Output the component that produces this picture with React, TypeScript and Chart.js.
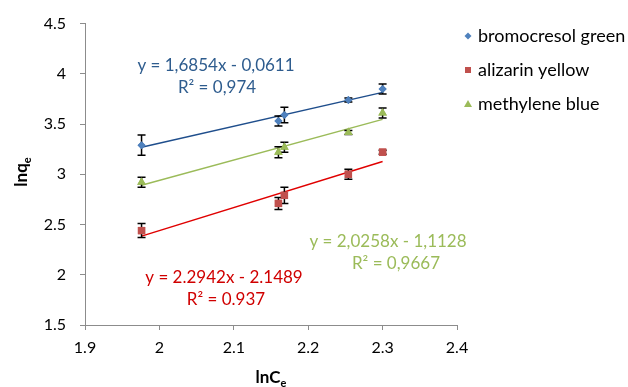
import React, { useEffect, useRef } from "react";
import { Chart, registerables } from "chart.js";

Chart.register(...registerables);

const seriesNames = ["bromocresol green", "alizarin yellow", "methylene blue"];
const lnCe = [1.976, 2.16, 2.168, 2.254, 2.3];
const greenY = [3.29, 3.53, 3.59, 3.74, 3.85];
const greenErr = [0.1, 0.05, 0.077, 0.02, 0.05];
const yellowY = [2.44, 2.71, 2.79, 3.0, 3.22];
const yellowErr = [0.07, 0.06, 0.08, 0.05, 0.02];
const blueY = [2.92, 3.22, 3.27, 3.415, 3.61];
const blueErr = [0.05, 0.055, 0.05, 0.02, 0.05];
const slopes = [1.6854, 2.2942, 2.0258];
const intercepts = [-0.0611, -2.1489, -1.1128];
const eqLabels = [
  ["y = 1,6854x - 0,0611", "R\u00B2 = 0,974"],
  ["y = 2.2942x - 2.1489", "R\u00B2 = 0.937"],
  ["y = 2,0258x - 1,1128", "R\u00B2 = 0,9667"],
];
const xTicks = [1.9, 2.0, 2.1, 2.2, 2.3, 2.4];
const yTicks = [1.5, 2, 2.5, 3, 3.5, 4, 4.5];

const markerColors = ["#4F81BD", "#C0504D", "#9BBB59"];
const lineColors = ["#1F4E8C", "#E00000", "#9BBB59"];
const textColors = ["#2E5C8E", "#D00000", "#9BBB59"];
const markerStyles = ["rectRot", "rect", "triangle"];
const markerRadius = [4, 5.2, 5];
const FONT = "Lato, 'Open Sans', sans-serif";

export default function App() {
  const ref = useRef<HTMLCanvasElement | null>(null);
  useEffect(() => {
    if (!ref.current) return;
    const ys = [greenY, yellowY, blueY];
    const errs = [greenErr, yellowErr, blueErr];
    const xmin = lnCe[0];
    const xmax = lnCe[lnCe.length - 1];
    const trend = slopes.map((m, i) => ({
      type: "line" as const,
      label: "trend" + i,
      data: [
        { x: xmin, y: m * xmin + intercepts[i] },
        { x: xmax, y: m * xmax + intercepts[i] },
      ],
      borderColor: lineColors[i],
      borderWidth: 1.5,
      pointRadius: 0,
      showLine: true,
      fill: false,
      order: 2,
    }));
    const pts = ys.map((arr, i) => ({
      type: "scatter" as const,
      label: seriesNames[i],
      data: arr.map((y, j) => ({ x: lnCe[j], y })),
      pointStyle: markerStyles[i],
      backgroundColor: markerColors[i],
      borderColor: markerColors[i],
      borderWidth: 0,
      pointRadius: markerRadius[i],
      showLine: false,
      order: 1,
    }));

    const errPlugin = {
      id: "errbars",
      afterDatasetsDraw(chart: any) {
        const ctx = chart.ctx;
        const xs = chart.scales.x;
        const yS = chart.scales.y;
        ctx.save();
        ctx.strokeStyle = "#000";
        ctx.lineWidth = 1.5;
        ys.forEach((arr, i) => {
          arr.forEach((y, j) => {
            const px = xs.getPixelForValue(lnCe[j]);
            const top = yS.getPixelForValue(y + errs[i][j]);
            const bot = yS.getPixelForValue(y - errs[i][j]);
            ctx.beginPath();
            ctx.moveTo(px, top);
            ctx.lineTo(px, bot);
            ctx.moveTo(px - 4, top);
            ctx.lineTo(px + 4, top);
            ctx.moveTo(px - 4, bot);
            ctx.lineTo(px + 4, bot);
            ctx.stroke();
          });
        });
        chart.data.datasets.forEach((ds: any, k: number) => {
          if (ds.type !== "scatter") return;
          chart.getDatasetMeta(k).data.forEach((el: any) => el.draw(ctx));
        });
        ctx.restore();
      },
    };

    const textPlugin = {
      id: "texts",
      afterDraw(chart: any) {
        const ctx = chart.ctx;
        ctx.save();
        ctx.textAlign = "center";
        ctx.textBaseline = "middle";
        ctx.font = `17px ${FONT}`;
        const pos = [
          [[216, 66], [217, 88]],
          [[224, 278], [226, 300]],
          [[388, 242], [396, 264]],
        ];
        eqLabels.forEach((lines, i) => {
          ctx.fillStyle = textColors[i];
          lines.forEach((t, k) => ctx.fillText(t, pos[i][k][0], pos[i][k][1]));
        });
        ctx.textAlign = "left";
        ctx.font = `18px ${FONT}`;
        seriesNames.forEach((n, i) => {
          const yy = 36 + i * 34;
          ctx.fillStyle = "#000";
          ctx.fillText(n, 478, yy);
          ctx.fillStyle = markerColors[i];
          ctx.beginPath();
          if (i === 0) {
            ctx.moveTo(468, yy - 3.5);
            ctx.lineTo(471.5, yy);
            ctx.lineTo(468, yy + 3.5);
            ctx.lineTo(464.5, yy);
          } else if (i === 1) {
            ctx.rect(465, yy - 3, 6, 6);
          } else {
            ctx.moveTo(468, yy - 4);
            ctx.lineTo(472, yy + 3);
            ctx.lineTo(464, yy + 3);
          }
          ctx.closePath();
          ctx.fill();
        });
        ctx.fillStyle = "#000";
        ctx.font = `bold 17px ${FONT}`;
        const w1 = ctx.measureText("lnC").width;
        ctx.font = `bold 11px ${FONT}`;
        const w2 = ctx.measureText("e").width;
        const cx = 271 - (w1 + w2) / 2;
        ctx.textAlign = "left";
        ctx.textBaseline = "alphabetic";
        ctx.font = `bold 17px ${FONT}`;
        ctx.fillText("lnC", cx, 383);
        ctx.font = `bold 11px ${FONT}`;
        ctx.fillText("e", cx + w1, 387);
        ctx.save();
        ctx.translate(27, 172);
        ctx.rotate(-Math.PI / 2);
        ctx.font = `bold 17px ${FONT}`;
        const v1 = ctx.measureText("lnq").width;
        ctx.font = `bold 11px ${FONT}`;
        const v2 = ctx.measureText("e").width;
        const sx = -(v1 + v2) / 2;
        ctx.font = `bold 17px ${FONT}`;
        ctx.fillText("lnq", sx, 0);
        ctx.font = `bold 11px ${FONT}`;
        ctx.fillText("e", sx + v1, 4);
        ctx.restore();
        ctx.restore();
      },
    };

    const chart = new Chart(ref.current, {
      type: "scatter",
      data: { datasets: [...pts, ...trend] as any },
      options: {
        animation: false,
        responsive: false,
        maintainAspectRatio: false,
        layout: { padding: { left: 0, right: 171, top: 20, bottom: 0 } },
        plugins: { legend: { display: false }, tooltip: { enabled: false } },
        scales: {
          x: {
            type: "linear",
            min: 1.9,
            max: 2.4,
            afterBuildTicks(s: any) {
              s.ticks = xTicks.map((v) => ({ value: v }));
            },
            afterFit(s: any) {
              s.height = 62;
            },
            border: { color: "#8C8C8C", width: 1 },
            grid: { drawOnChartArea: false, tickLength: 5, color: "#8C8C8C" },
            ticks: {
              color: "#000",
              font: { family: FONT, size: 16 },
              padding: 8,
              maxRotation: 0,
              callback: (v: any) => String(Math.round(Number(v) * 10) / 10),
            },
          },
          y: {
            type: "linear",
            min: 1.5,
            max: 4.5,
            afterBuildTicks(s: any) {
              s.ticks = yTicks.map((v) => ({ value: v }));
            },
            afterFit(s: any) {
              s.width = 85;
            },
            border: { color: "#8C8C8C", width: 1 },
            grid: { drawOnChartArea: false, tickLength: 5, color: "#8C8C8C" },
            ticks: {
              color: "#000",
              font: { family: FONT, size: 16 },
              padding: 14,
              callback: (v: any) => String(v),
            },
          },
        },
      } as any,
      plugins: [errPlugin, textPlugin],
    });
    return () => chart.destroy();
  }, []);
  return (
    <div style={{ position: "fixed", left: 0, top: 0, width: 628, height: 387, background: "#fff" }}>
      <canvas ref={ref} width={628} height={387} style={{ width: 628, height: 387 }} />
    </div>
  );
}
